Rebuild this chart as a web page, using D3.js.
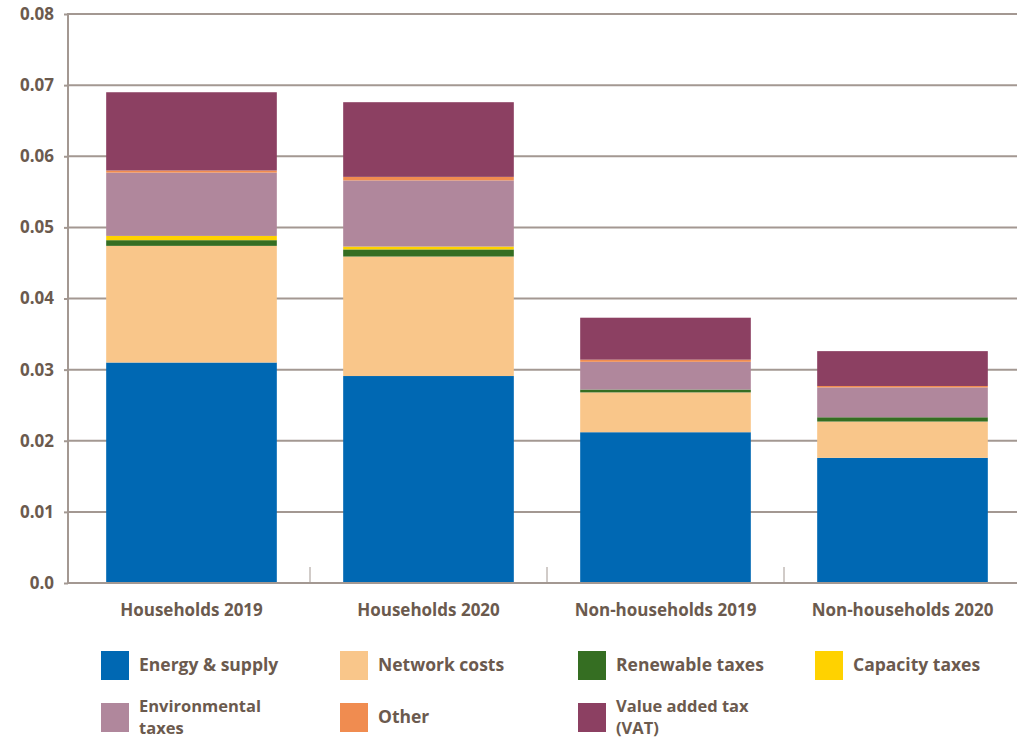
<!DOCTYPE html>
<html><head><meta charset="utf-8">
<script src="https://cdn.jsdelivr.net/npm/d3@7"></script>
<style>
body{margin:0;background:#fff;}
text{font-family:"Open Sans",Lato,sans-serif;font-weight:700;fill:#6b5a4e;}
</style></head>
<body><svg id="c" width="1017" height="740"></svg>
<script>
const categories = ["Households 2019","Households 2020","Non-households 2019","Non-households 2020"];
const seriesNames = ["Energy & supply","Network costs","Renewable taxes","Capacity taxes","Environmental taxes","Other","Value added tax (VAT)"];
const energy      = [0.0310, 0.0291, 0.0212, 0.0176];
const network     = [0.0164, 0.0168, 0.0056, 0.0051];
const renewable   = [0.0008, 0.0010, 0.0004, 0.0006];
const capacity    = [0.0006, 0.0004, 0.0000, 0.0000];
const environment = [0.0089, 0.0093, 0.0039, 0.0042];
const other       = [0.0003, 0.0005, 0.0003, 0.0002];
const vat         = [0.0110, 0.0105, 0.0059, 0.0049];
const yTicks = [0, 0.01, 0.02, 0.03, 0.04, 0.05, 0.06, 0.07, 0.08];
const yTickLabels = ["0.0","0.01","0.02","0.03","0.04","0.05","0.06","0.07","0.08"];
const colors = ["#0068b3","#f9c68a","#356e22","#ffd200","#b0879c","#f08c50","#8c4062"];

(function(){
const seriesValues = [energy, network, renewable, capacity, environment, other, vat];
const rows = categories.map((c,i)=>{const r={cat:c}; seriesNames.forEach((s,j)=>r[s]=seriesValues[j][i]); return r;});
const stack = d3.stack().keys(seriesNames)(rows);

const svg = d3.select("#c");
const mLeft = 68, mRight = 1017, mTop = 14, mBottom = 583;
const y = d3.scaleLinear().domain([0,0.08]).range([mBottom, mTop]);
const x = d3.scaleBand().domain(categories).range([73, 1021]).paddingInner(0.28).paddingOuter(0.14);
const gridColor = "#a39892";

svg.append("g").selectAll("line").data(yTicks.slice(1)).join("line")
  .attr("x1", mLeft).attr("x2", mRight).attr("y1", d=>y(d)).attr("y2", d=>y(d))
  .attr("stroke", gridColor).attr("stroke-width", 2);

svg.append("g").selectAll("g").data(stack).join("g")
  .attr("fill", (d,i)=>colors[i])
  .selectAll("rect").data(d=>d).join("rect")
  .attr("x", d=>x(d.data.cat)).attr("width", x.bandwidth())
  .attr("y", d=>y(d[1])).attr("height", d=>y(d[0])-y(d[1]));

const yAxis = d3.axisLeft(y).tickValues(yTicks).tickFormat((d,i)=>yTickLabels[i]).tickSize(4).tickPadding(10);
const ya = svg.append("g").attr("transform",`translate(${mLeft},0)`).call(yAxis);
ya.select(".domain").remove();
ya.selectAll(".tick line").attr("stroke", gridColor).attr("stroke-width",2);
ya.selectAll(".tick text").attr("font-size", 17).style("font-family","'Open Sans', sans-serif").style("font-weight",700).attr("fill","#6b5a4e");
svg.append("line").attr("x1", mLeft).attr("x2", mLeft).attr("y1", mTop-1).attr("y2", mBottom+1)
  .attr("stroke", gridColor).attr("stroke-width", 2);

svg.append("line").attr("x1", mLeft).attr("x2", mRight).attr("y1", mBottom).attr("y2", mBottom)
  .attr("stroke", gridColor).attr("stroke-width", 2);
const bounds = categories.slice(1).map(c=>x(c) - x.step()*x.paddingInner()/2);
svg.append("g").selectAll("line").data(bounds).join("line")
  .attr("x1", d=>d).attr("x2", d=>d).attr("y1", mBottom-16).attr("y2", mBottom)
  .attr("stroke", gridColor).attr("stroke-width", 1);
svg.append("g").selectAll("text").data(categories).join("text")
  .attr("x", d=>x(d)+x.bandwidth()/2).attr("y", 616).attr("text-anchor","middle")
  .attr("font-size", 17).text(d=>d);

const legendItems = [
  {name:"Energy & supply", lines:["Energy & supply"], col:0, row:0},
  {name:"Network costs", lines:["Network costs"], col:1, row:0},
  {name:"Renewable taxes", lines:["Renewable taxes"], col:2, row:0},
  {name:"Capacity taxes", lines:["Capacity taxes"], col:3, row:0},
  {name:"Environmental taxes", lines:["Environmental","taxes"], col:0, row:1},
  {name:"Other", lines:["Other"], col:1, row:1},
  {name:"Value added tax (VAT)", lines:["Value added tax","(VAT)"], col:2, row:1}
];
const colX = [101, 340, 578, 815];
const rowY = [665, 717];
const lg = svg.append("g").selectAll("g").data(legendItems).join("g")
  .attr("transform", d=>`translate(${colX[d.col]},${rowY[d.row]})`);
lg.append("rect").attr("x",0).attr("y",-14).attr("width",28).attr("height",29)
  .attr("fill", d=>colors[seriesNames.indexOf(d.name)]);
lg.each(function(d){
  const n = d.lines.length;
  const fs = n > 1 ? 16.5 : 17.5;
  const lh = 22.6;
  d.lines.forEach((l,i)=>{
    d3.select(this).append("text").attr("font-size",fs)
      .attr("x",38).attr("y", (i-(n-1)/2)*lh + 6).text(l);
  });
});
})();
</script></body></html>
